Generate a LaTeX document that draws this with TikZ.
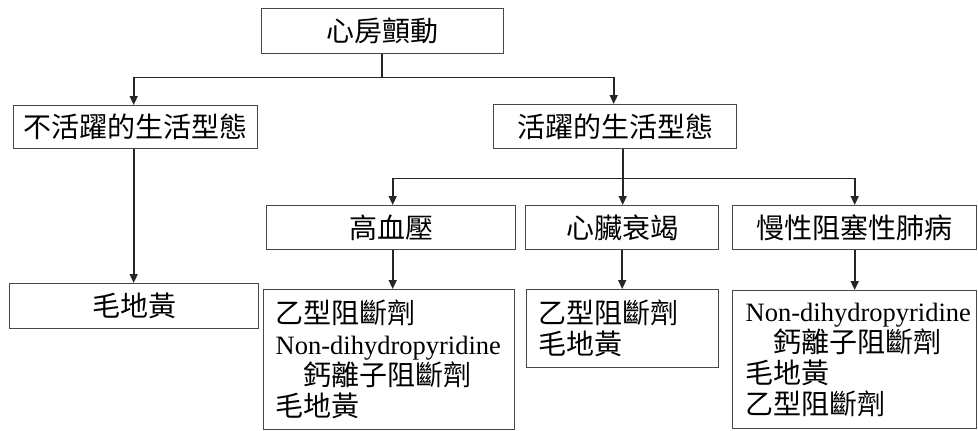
\documentclass[tikz,border=0pt]{standalone}
\usepackage{fontspec}
\setmainfont{Liberation Serif}
\newfontfamily\cjk{Noto Sans CJK TC}
\usetikzlibrary{arrows.meta}
\newcommand\nondhp{\mbox{\rmfamily\fontsize{26.5}{31}\selectfont Non-dihydropyridine}}
\begin{document}
\begin{tikzpicture}[x=1pt,y=-1pt,
  box/.style={draw=black!72, line width=1.4pt, inner sep=0pt, anchor=north west,
    font=\cjk\fontsize{28}{31}\selectfont},
  list/.style={box, align=left, inner xsep=12pt},
  conn/.style={draw=black!85, line width=1.6pt},
  arr/.style={conn, -{Triangle[length=9pt,width=8pt]}}]
\useasboundingbox[fill=white] (0,0) rectangle (978,431);
% boxes
\node[box, minimum width=242pt, minimum height=45pt] (top) at (261,8) {心房顫動};
\node[box, minimum width=244pt, minimum height=43pt] (L1) at (13,105) {不活躍的生活型態};
\node[box, minimum width=243pt, minimum height=44pt] (R1) at (493,104) {活躍的生活型態};
\node[box, minimum width=249pt, minimum height=45pt] (L2) at (9,283) {毛地黃};
\node[box, minimum width=249pt, minimum height=44pt] (H) at (266,205) {高血壓};
\node[box, minimum width=193pt, minimum height=44pt] (HF) at (525,205) {心臟衰竭};
\node[box, minimum width=244pt, minimum height=44pt] (CO) at (732,205) {慢性阻塞性肺病};
\node[list, text width=227pt, minimum height=140pt] (B1) at (263,289)
  {乙型阻斷劑\\\nondhp\\\hspace*{1em}鈣離子阻斷劑\\毛地黃};
\node[list, text width=168pt, minimum height=78pt] (B2) at (526,289)
  {乙型阻斷劑\\毛地黃};
\node[list, inner xsep=13pt, text width=218pt, minimum height=138pt] (B3) at (732,290)
  {\nondhp\\\hspace*{1em}鈣離子阻斷劑\\毛地黃\\乙型阻斷劑};
% connectors
\draw[conn] ([xshift=-1pt]top.south) -- ++(0,23) coordinate (j1);
\draw[arr] (j1) -| ([xshift=-2pt]L1.north);
\draw[arr] (j1) -| ([xshift=-1.5pt]R1.north);
\draw[arr] ([xshift=-2pt]L1.south) -- ([xshift=-2pt]L1.south |- L2.north);
\draw[conn] ([xshift=7.5pt]R1.south) -- ++(0,29) coordinate (j2);
\draw[arr] (j2) -| ([xshift=1.5pt]H.north);
\draw[arr] (j2) -- (j2 |- HF.north);
\draw[arr] (j2) -| (CO.north);
\draw[arr] ([xshift=1.5pt]H.south) -- ([xshift=1.5pt]H.south |- B1.north);
\draw[arr] (HF.south) -- (HF.south |- B2.north);
\draw[arr] (CO.south) -- (CO.south |- B3.north);
\end{tikzpicture}
\end{document}
